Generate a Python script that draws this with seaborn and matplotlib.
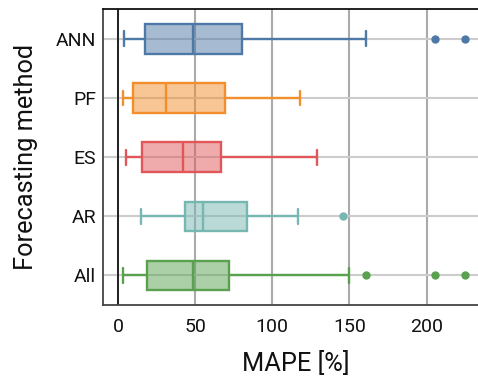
import numpy as np
import pandas as pd
import matplotlib
matplotlib.use("Agg")
import matplotlib.pyplot as plt
import seaborn as sns
from matplotlib.colors import to_rgba

methods = ["ANN", "PF", "ES", "AR", "All"]
colors = ["#4e79a7", "#f28e2b", "#e15759", "#76b7b2", "#59a14f"]
whisker_low = [4.1, 3.0, 4.9, 14.9, 3.0]
q1 = [17.7, 9.9, 15.3, 43.6, 18.8]
median = [48.8, 30.9, 42.1, 54.8, 48.8]
q3 = [80.4, 69.1, 66.7, 83.8, 72.1]
whisker_high = [160.6, 118.0, 128.8, 116.9, 149.7]
outliers = [[205.6, 224.6], [], [], [145.8], [160.6, 205.6, 224.6]]

# Build a long-form table whose box statistics reproduce the values above
rows = []
for m, lo, a, md, b, hi, outs in zip(methods, whisker_low, q1, median, q3, whisker_high, outliers):
    k = len(outs) + 1
    vals = [lo] + [a] * k + [md] * k + [b] * k + [hi] + list(outs)
    rows += [(m, v) for v in vals]
df = pd.DataFrame(rows, columns=["method", "mape"])

sns.set_theme(style="white")
plt.rcParams["font.family"] = ["Roboto", "DejaVu Sans"]

fig = plt.figure(figsize=(4.78, 3.76), dpi=100)
ax = fig.add_axes([103.3 / 478, (376 - 305) / 376, 385 / 478, (305 - 9.3) / 376])

for m, c in zip(methods, colors):
    n0 = len(ax.patches)
    sns.boxplot(
        data=df[df["method"] == m], x="mape", y="method", order=methods,
        color=c, linecolor=c, linewidth=1.7, width=0.5, ax=ax,
        flierprops=dict(marker="o", markerfacecolor=c, markeredgecolor=c,
                        markersize=5),
    )
    for p in ax.patches[n0:]:
        p.set_facecolor(to_rgba(c, 0.5))
        p.set_edgecolor(c)

ax.set_xlim(-9.5, 240)
ax.set_ylim(4.5, -0.5)
ax.set_xticks([0, 50, 100, 150, 200])
ax.set_axisbelow(True)
ax.grid(axis="x", color="#aaaaaa", linewidth=1.5)
ax.grid(axis="y", color="#cccccc", linewidth=1.5)
ax.axvline(0, color="#222222", linewidth=1.4, zorder=1.5)

for s in ["left", "bottom", "top"]:
    ax.spines[s].set_color("#444444")
    ax.spines[s].set_linewidth(1.3)
ax.spines["top"].set_color("#111111")
ax.spines["right"].set_visible(False)

ax.tick_params(axis="both", length=0, labelsize=14, colors="#111111")
ax.tick_params(axis="x", pad=9)
ax.tick_params(axis="y", pad=5)
ax.set_xlabel("MAPE [%]", fontsize=18.3, color="#111111", labelpad=11)
ax.set_ylabel("Forecasting method", fontsize=18.3, color="#111111", labelpad=13)

fig.savefig("out.png", dpi=100)
